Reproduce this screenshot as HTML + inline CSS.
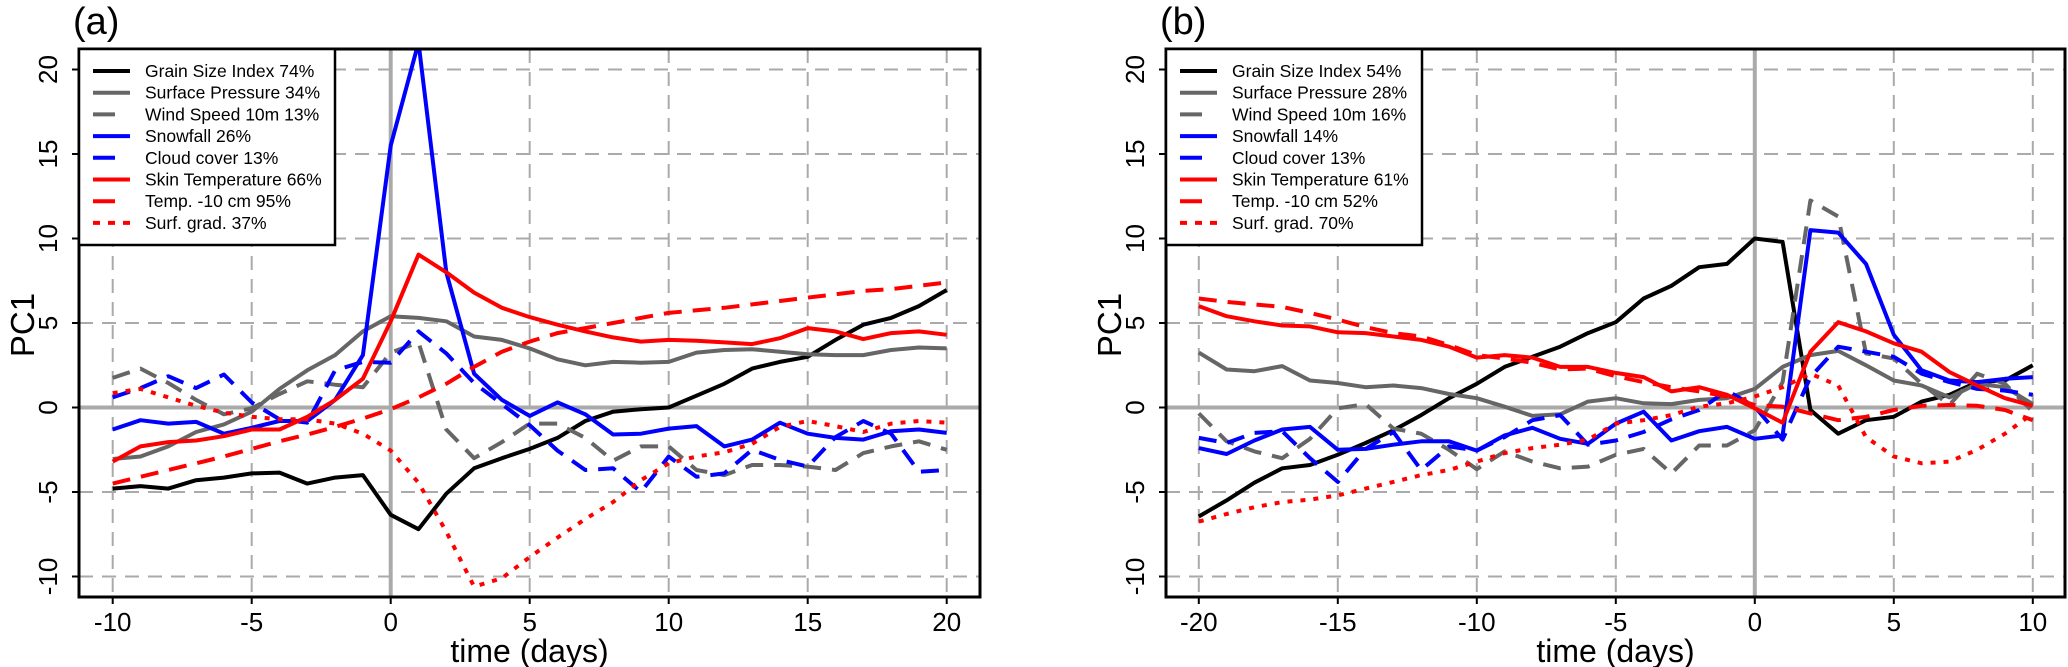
<!DOCTYPE html>
<html><head><meta charset="utf-8"><style>
html,body{margin:0;padding:0;background:#fff;}
svg{display:block;font-family:"Liberation Sans",Arial,sans-serif;}
</style></head><body>
<svg id="chart" width="2068" height="667" viewBox="0 0 2068 667" xmlns="http://www.w3.org/2000/svg"></svg>
<script>
// ---------- data ----------
const daysA = [-10,-9,-8,-7,-6,-5,-4,-3,-2,-1,0,1,2,3,4,5,6,7,8,9,10,11,12,13,14,15,16,17,18,19,20];
const grainA = [-4.8,-4.65,-4.8,-4.3,-4.15,-3.9,-3.85,-4.5,-4.15,-4.0,-6.35,-7.2,-5.1,-3.6,-3.0,-2.45,-1.8,-0.8,-0.25,-0.1,0,0.7,1.4,2.3,2.7,3.0,4.0,4.9,5.3,6.0,6.95];
const pressA = [-3.05,-2.9,-2.3,-1.45,-1.0,-0.25,1.1,2.2,3.1,4.5,5.4,5.3,5.1,4.2,4.0,3.5,2.85,2.5,2.7,2.65,2.7,3.25,3.4,3.45,3.3,3.15,3.1,3.1,3.4,3.55,3.5];
const windA = [1.75,2.3,1.45,0.45,-0.4,-0.05,0.8,1.55,1.35,1.2,3.25,3.85,-1.3,-3.0,-2.05,-0.95,-0.95,-1.8,-3.15,-2.3,-2.3,-3.7,-4.0,-3.4,-3.4,-3.5,-3.7,-2.7,-2.3,-2.0,-2.5];
const snowA = [-1.3,-0.75,-0.95,-0.85,-1.55,-1.2,-0.8,-0.8,0.45,3.1,15.5,21.6,8.0,2.0,0.45,-0.5,0.3,-0.4,-1.6,-1.55,-1.25,-1.1,-2.3,-1.9,-0.9,-1.55,-1.8,-1.9,-1.4,-1.3,-1.5];
const cloudA = [0.6,1.15,1.85,1.15,1.95,0.3,-0.7,-0.9,2.2,2.7,2.65,4.5,3.2,1.45,0.2,-1.05,-2.55,-3.7,-3.6,-5.0,-2.9,-4.1,-3.9,-2.5,-3.1,-3.5,-1.75,-0.8,-1.55,-3.8,-3.7];
const skinA = [-3.2,-2.3,-2.05,-1.95,-1.7,-1.3,-1.3,-0.55,0.45,1.7,5.1,9.05,8.0,6.8,5.9,5.35,4.9,4.5,4.15,3.9,4.0,3.95,3.85,3.75,4.1,4.7,4.5,4.05,4.4,4.5,4.3];
const t10A = [-4.5,-4.1,-3.7,-3.3,-2.9,-2.45,-2.0,-1.6,-1.15,-0.65,-0.1,0.6,1.4,2.4,3.3,3.9,4.4,4.7,5.0,5.3,5.6,5.75,5.9,6.1,6.3,6.5,6.7,6.9,7.0,7.2,7.4];
const gradA = [0.85,1.1,0.6,0.1,-0.3,-0.55,-0.7,-0.7,-0.95,-1.55,-2.55,-4.45,-7.35,-10.6,-10.1,-8.85,-7.7,-6.6,-5.6,-4.3,-3.3,-2.9,-2.65,-2.15,-1.15,-0.8,-1.1,-1.45,-0.95,-0.8,-0.9];

const daysB = [-20,-19,-18,-17,-16,-15,-14,-13,-12,-11,-10,-9,-8,-7,-6,-5,-4,-3,-2,-1,0,1,2,3,4,5,6,7,8,9,10];
const grainB = [-6.45,-5.5,-4.45,-3.6,-3.4,-2.8,-2.1,-1.35,-0.45,0.55,1.4,2.4,3.0,3.6,4.4,5.05,6.45,7.2,8.3,8.5,10.0,9.8,-0.15,-1.55,-0.75,-0.55,0.35,0.75,1.5,1.6,2.5];
const pressB = [3.25,2.25,2.15,2.45,1.6,1.45,1.2,1.3,1.15,0.8,0.55,0.05,-0.5,-0.4,0.35,0.55,0.25,0.2,0.45,0.55,1.1,2.4,3.1,3.35,2.5,1.6,1.3,0.6,1.4,1.2,0.2];
const windB = [-0.35,-2.0,-2.6,-3.0,-1.85,-0.05,0.2,-1.25,-1.55,-2.5,-3.65,-2.6,-3.2,-3.6,-3.5,-2.8,-2.45,-3.9,-2.25,-2.25,-1.35,1.5,12.25,11.3,3.2,2.9,1.4,0.15,2.0,1.4,-0.25];
const snowB = [-2.4,-2.75,-1.95,-1.3,-1.15,-2.5,-2.45,-2.2,-2.0,-2.0,-2.55,-1.65,-1.2,-1.85,-2.15,-0.95,-0.25,-1.95,-1.4,-1.15,-1.85,-1.65,10.5,10.35,8.5,4.3,2.2,1.6,1.5,1.7,1.8];
const cloudB = [-1.8,-2.1,-1.5,-1.4,-3.0,-4.4,-2.45,-1.45,-3.7,-2.3,-2.55,-1.75,-0.75,-0.45,-2.2,-1.95,-1.45,-0.7,-0.15,1.0,0.05,-1.9,1.8,3.6,3.3,3.0,2.0,1.5,1.1,1.0,0.75];
const skinB = [6.0,5.4,5.1,4.85,4.8,4.45,4.4,4.2,4.0,3.6,2.95,3.1,2.95,2.4,2.4,2.05,1.8,0.95,1.2,0.75,-0.05,-0.9,3.3,5.05,4.5,3.8,3.3,2.1,1.3,0.55,0.1];
const t10B = [6.45,6.25,6.1,5.95,5.6,5.2,4.75,4.4,4.2,3.7,3.1,2.9,2.65,2.25,2.3,1.85,1.5,1.2,0.95,0.65,0.15,0.05,-0.35,-0.75,-0.55,-0.15,0.1,0.15,0.1,-0.15,-0.75];
const gradB = [-6.75,-6.3,-5.9,-5.6,-5.45,-5.2,-4.8,-4.4,-4.0,-3.7,-3.2,-2.7,-2.4,-2.2,-1.9,-0.95,-0.75,-0.45,0.05,0.25,0.65,1.2,2.0,1.3,-1.75,-2.9,-3.3,-3.2,-2.5,-1.55,-0.35];

const yTicks = [-10,-5,0,5,10,15,20];
const xTicksA = [-10,-5,0,5,10,15,20];
const xTicksB = [-20,-15,-10,-5,0,5,10];
const legendA = ["Grain Size Index 74%","Surface Pressure 34%","Wind Speed 10m 13%","Snowfall 26%","Cloud cover 13%","Skin Temperature 66%","Temp. -10 cm 95%","Surf. grad. 37%"];
const legendB = ["Grain Size Index 54%","Surface Pressure 28%","Wind Speed 10m 16%","Snowfall 14%","Cloud cover 13%","Skin Temperature 61%","Temp. -10 cm 52%","Surf. grad. 70%"];

// ---------- drawing ----------
const NS = "http://www.w3.org/2000/svg";
const svg = document.getElementById('chart');
function mk(tag, attrs, parent){
  const e = document.createElementNS(NS, tag);
  for (const k in attrs) e.setAttribute(k, attrs[k]);
  (parent||svg).appendChild(e);
  return e;
}
const styles = [
  {c:"#000000", d:null, name:"grain-size-index"},
  {c:"#666666", d:null, name:"surface-pressure"},
  {c:"#666666", d:"18 11", name:"wind-speed"},
  {c:"#0000ff", d:null, name:"snowfall"},
  {c:"#0000ff", d:"18 11", name:"cloud-cover"},
  {c:"#ff0000", d:null, name:"skin-temperature"},
  {c:"#ff0000", d:"18 11", name:"temp-10cm"},
  {c:"#ff0000", d:"5 8", name:"surf-grad"}
];
const Y0 = 407.5, YU = 16.9, BT = 49, BB = 597;
const yS = v => Y0 - v*YU;

function panel(p){
  const g = mk('g', {});
  
  
  const xS = d => p.x0 + (d - p.dRef)*27.8;
  const clipId = 'clip-' + p.id;
  const cp = mk('clipPath', {id: clipId}, g);
  mk('rect', {x:p.L, y:BT, width:p.R-p.L, height:BB-BT}, cp);
  // grid
  const grid = mk('g', {}, g);
  
  
  yTicks.forEach(v => {
    const ln = mk('line', {x1:p.L, x2:p.R, y1:yS(v), y2:yS(v), stroke:"#aaaaaa", 'stroke-width': v===0?4:2, 'stroke-dasharray': v===0?"none":"14 9"}, grid);
    
    
  });
  p.xt.forEach(v => {
    const ln = mk('line', {x1:xS(v), x2:xS(v), y1:BT, y2:BB, stroke:"#aaaaaa", 'stroke-width': v===0?4:2, 'stroke-dasharray': v===0?"none":"14 9"}, grid);
    
    
  });
  // series
  const sg = mk('g', {'clip-path':'url(#'+clipId+')'}, g);
  p.series.forEach((vals, i) => {
    const st = styles[i];
    const pts = vals.map((v, j) => xS(p.days[j]).toFixed(1) + ',' + yS(v).toFixed(1)).join(' ');
    const pl = mk('polyline', {points: pts, fill:'none', stroke: st.c, 'stroke-width': 4, 'stroke-linejoin':'round', 'stroke-linecap': st.d==="5 8" ? 'butt' : 'butt'}, sg);
    if (st.d) pl.setAttribute('stroke-dasharray', st.d);
    
    
  });
  // box
  const box = mk('rect', {x:p.L, y:BT, width:p.R-p.L, height:BB-BT, fill:'none', stroke:'#000', 'stroke-width':3}, g);
  
  
  // y ticks
  yTicks.forEach(v => {
    mk('line', {x1:p.L-7, x2:p.L, y1:yS(v), y2:yS(v), stroke:'#000', 'stroke-width':2}, g);
    const t = mk('text', {x:0, y:0, transform:'translate('+(p.L-22)+','+yS(v)+') rotate(-90)', 'text-anchor':'middle', 'font-size':26, fill:'#000'}, g);
    t.textContent = v;
    
    
  });
  // x ticks
  p.xt.forEach(v => {
    mk('line', {x1:xS(v), x2:xS(v), y1:BB, y2:BB+7, stroke:'#000', 'stroke-width':2}, g);
    const t = mk('text', {x:xS(v), y:631, 'text-anchor':'middle', 'font-size':26, fill:'#000'}, g);
    t.textContent = v;
    
    
  });
  const xt = mk('text', {x:(p.L+p.R)/2, y:662, 'text-anchor':'middle', 'font-size':32, fill:'#000'}, g);
  xt.textContent = 'time (days)';
  
  
  const yt = mk('text', {x:0, y:0, transform:'translate('+(p.L-45)+',325) rotate(-90)', 'text-anchor':'middle', 'font-size':33, fill:'#000'}, g);
  yt.textContent = 'PC1';
  
  
  const tt = mk('text', {x:p.L-6, y:34, 'font-size':38, fill:'#000'}, g);
  tt.textContent = '(' + p.id + ')';
  
  
  // legend
  const lg = mk('g', {}, g);
  
  
  const lb = mk('rect', {x:p.L, y:BT, width:256, height:196, fill:'#fff', stroke:'#000', 'stroke-width':2.5}, lg);
  
  
  p.legend.forEach((txt, i) => {
    const st = styles[i];
    const y = 71 + i*21.7;
    const e = mk('g', {}, lg);
    
    
    const ln = mk('line', {x1:p.L+14, x2:p.L+51, y1:y, y2:y, stroke:st.c, 'stroke-width':4}, e);
    if (st.d) ln.setAttribute('stroke-dasharray', st.d==="5 8" ? "7 8" : "22 30");
    const t = mk('text', {x:p.L+66, y:y+6, 'font-size':17.5, fill:'#000'}, e);
    t.textContent = txt;
  });
}

panel({id:'a', L:79, R:980, x0:390.7, dRef:0, days:daysA, xt:xTicksA, legend:legendA,
  series:[grainA,pressA,windA,snowA,cloudA,skinA,t10A,gradA]});
panel({id:'b', L:1166, R:2065, x0:1754.8, dRef:0, days:daysB, xt:xTicksB, legend:legendB,
  series:[grainB,pressB,windB,snowB,cloudB,skinB,t10B,gradB]});
</script>
</body></html>
